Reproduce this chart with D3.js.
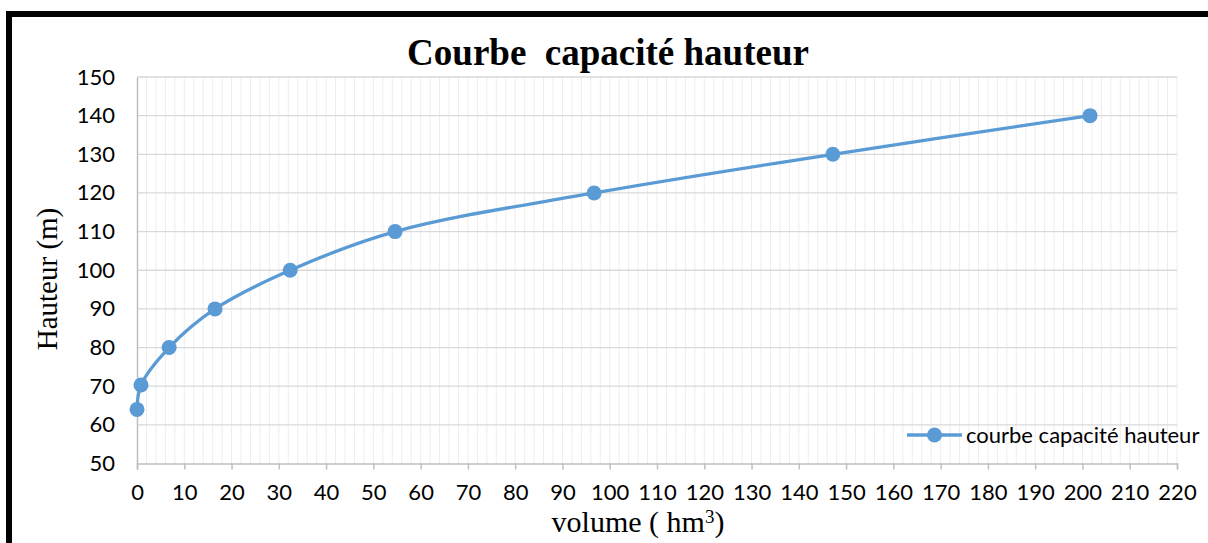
<!DOCTYPE html>
<html lang="fr">
<head>
<meta charset="UTF-8">
<title>Courbe capacité hauteur</title>
<script src="https://cdnjs.cloudflare.com/ajax/libs/d3/7.8.5/d3.min.js"></script>
<style>
  body { margin: 0; background: #fff; }
</style>
</head>
<body>
<script>
// data
var volumes = [0, 0.85, 6.8, 16.5, 32.4, 54.6, 96.7, 147.2, 201.6];
var hauteurs = [64, 70.3, 80, 90, 100, 110, 120, 130, 140];
var xTicks = [0,10,20,30,40,50,60,70,80,90,100,110,120,130,140,150,160,170,180,190,200,210,220];
var yTicks = [50,60,70,80,90,100,110,120,130,140,150];
var seriesName = "courbe capacité hauteur";

var W = 1208, H = 543;
var svg = d3.select("body").append("svg")
    .attr("width", W).attr("height", H);

// thick black frame (cut at right and bottom)
svg.append("rect")
    .attr("x", 9).attr("y", 14)
    .attr("width", 1300).attr("height", 600)
    .attr("fill", "none").attr("stroke", "#000").attr("stroke-width", 6);

var x = d3.scaleLinear().domain([0, 220]).range([137, 1177]);
var y = d3.scaleLinear().domain([50, 150]).range([463.5, 77]);

var tickFont = "Lato, 'Open Sans', sans-serif";
var serif = "'Liberation Serif', 'Times New Roman', serif";

// vertical gridlines every 2
svg.append("g").selectAll("line")
    .data(d3.range(2, 221, 2))
    .enter().append("line")
    .attr("x1", d => x(d)).attr("x2", d => x(d))
    .attr("y1", y(150)).attr("y2", y(50))
    .attr("stroke", "#ededed").attr("stroke-width", 1);

// horizontal gridlines
svg.append("g").selectAll("line")
    .data(yTicks.slice(1))
    .enter().append("line")
    .attr("x1", x(0)).attr("x2", x(220))
    .attr("y1", d => y(d)).attr("y2", d => y(d))
    .attr("stroke", "#d9d9d9").attr("stroke-width", 1.3);

// axes
var xAxis = svg.append("g")
    .attr("transform", "translate(0," + y(50) + ")")
    .call(d3.axisBottom(x).tickValues(xTicks).tickSize(6).tickPadding(15));
xAxis.select(".domain").attr("stroke", "#bfbfbf").attr("stroke-width", 1.5);
xAxis.selectAll(".tick line").attr("stroke", "#bfbfbf").attr("stroke-width", 1.5);
xAxis.selectAll("text").style("font-family", tickFont).style("font-size", "22px").attr("fill", "#000");

var yAxis = svg.append("g")
    .attr("transform", "translate(" + x(0) + ",0)")
    .call(d3.axisLeft(y).tickValues(yTicks).tickSize(0).tickPadding(22));
yAxis.select(".domain").attr("stroke", "#bfbfbf").attr("stroke-width", 1.5);
yAxis.selectAll("text").style("font-family", tickFont).style("font-size", "22px").attr("fill", "#000");

// curve
var pts = volumes.map((v, i) => [v, hauteurs[i]]);
var line = d3.line()
    .x(d => x(d[0])).y(d => y(d[1]))
    .curve(d3.curveCatmullRom.alpha(0.5));

svg.append("path")
    .datum(pts)
    .attr("d", line)
    .attr("fill", "none").attr("stroke", "#5b9bd5").attr("stroke-width", 3.3);

svg.append("g").selectAll("circle")
    .data(pts)
    .enter().append("circle")
    .attr("cx", d => x(d[0])).attr("cy", d => y(d[1]))
    .attr("r", 7.5).attr("fill", "#5b9bd5");

// title
svg.append("text")
    .attr("x", 608).attr("y", 65)
    .attr("text-anchor", "middle")
    .style("font-family", serif)
    .style("font-weight", "bold").style("font-size", "37px")
    .style("white-space", "pre")
    .text("Courbe  capacité hauteur");

// axis titles
svg.append("text")
    .attr("transform", "translate(57,279) rotate(-90)")
    .attr("text-anchor", "middle")
    .style("font-family", serif)
    .style("font-size", "29px")
    .text("Hauteur (m)");

var xt = svg.append("text")
    .attr("x", 638).attr("y", 532)
    .attr("text-anchor", "middle")
    .style("font-family", serif)
    .style("font-size", "30px")
    .style("white-space", "pre");
xt.append("tspan").text("volume ( hm");
xt.append("tspan").attr("dy", -9).style("font-size", "19px").text("3");
xt.append("tspan").attr("dy", 9).text(")");

// legend
var lg = svg.append("g").attr("transform", "translate(907,435)");
lg.append("line").attr("x1", 0).attr("x2", 55).attr("y1", 0).attr("y2", 0)
    .attr("stroke", "#5b9bd5").attr("stroke-width", 3.3);
lg.append("circle").attr("cx", 27.5).attr("cy", 0).attr("r", 7.5).attr("fill", "#5b9bd5");
lg.append("text").attr("x", 59).attr("y", 8)
    .style("font-family", tickFont).style("font-size", "22px")
    .text(seriesName);
</script>
</body>
</html>
